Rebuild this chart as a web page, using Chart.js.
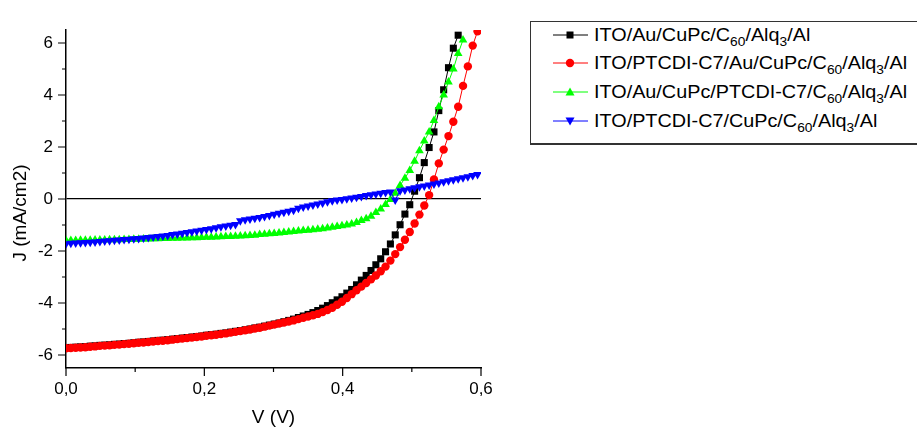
<!DOCTYPE html>
<html>
<head>
<meta charset="utf-8">
<script src="https://cdn.jsdelivr.net/npm/chart.js@4.4.1/dist/chart.umd.min.js"></script>
<style>
body{margin:0;background:#fff;}
#wrap{position:relative;width:917px;height:430px;overflow:hidden;}
#legend{position:absolute;left:530px;top:21px;width:420px;height:121px;border:1px solid #333;border-bottom-width:2px;background:#fff;
 font-family:"Liberation Sans",Arial,sans-serif;font-size:18px;color:#000;}
.row{position:absolute;left:22px;height:28px;line-height:28px;white-space:nowrap;}
.row svg{position:absolute;left:0;top:0;}
.row span{position:absolute;left:41px;top:0;transform:scaleX(1.1);transform-origin:0 50%;}
sub{font-size:12.5px;vertical-align:-5px;line-height:0;}
</style>
</head>
<body>
<div id="wrap">
<canvas id="c" width="917" height="430"></canvas>
<div id="legend"></div>
</div>
<script>
// bias voltage (V), shared by all four curves
const volts = [0,0.007,0.014,0.021,0.028,0.035,0.042,0.049,0.056,0.063,
 0.07,0.077,0.084,0.091,0.098,0.105,0.112,0.119,0.126,0.133,
 0.14,0.147,0.154,0.161,0.168,0.175,0.182,0.189,0.196,0.203,
 0.21,0.217,0.224,0.231,0.238,0.245,0.252,0.259,0.266,0.273,
 0.28,0.287,0.294,0.301,0.308,0.315,0.322,0.329,0.336,0.343,
 0.35,0.357,0.364,0.371,0.378,0.385,0.392,0.399,0.406,0.413,
 0.42,0.427,0.434,0.441,0.448,0.455,0.462,0.469,0.476,0.483,
 0.49,0.497,0.504,0.511,0.518,0.525,0.532,0.539,0.546,0.553,
 0.56,0.567,0.574,0.581,0.588,0.595];

// current density J (mA/cm2)
const jAuCuPc = [-5.72,-5.71,-5.70,-5.69,-5.68,-5.66,-5.65,-5.63,-5.62,-5.61,
 -5.59,-5.58,-5.56,-5.55,-5.53,-5.51,-5.50,-5.48,-5.46,-5.44,
 -5.43,-5.41,-5.39,-5.37,-5.35,-5.33,-5.31,-5.29,-5.27,-5.24,
 -5.22,-5.20,-5.17,-5.15,-5.12,-5.09,-5.06,-5.03,-5.00,-4.96,
 -4.93,-4.89,-4.85,-4.81,-4.77,-4.72,-4.67,-4.62,-4.56,-4.50,
 -4.44,-4.37,-4.29,-4.20,-4.10,-3.99,-3.88,-3.76,-3.62,-3.48,
 -3.30,-3.12,-2.94,-2.75,-2.53,-2.30,-2.03,-1.73,-1.38,-0.99,
 -0.58,-0.22,0.30,0.82,1.40,1.98,2.58,3.40,4.20,5.05,
 5.80,6.30];
const jPtcdiAu = [-5.74,-5.73,-5.72,-5.71,-5.70,-5.68,-5.67,-5.65,-5.64,-5.63,
 -5.61,-5.60,-5.58,-5.57,-5.55,-5.53,-5.52,-5.50,-5.48,-5.46,
 -5.45,-5.43,-5.41,-5.39,-5.37,-5.35,-5.33,-5.31,-5.29,-5.26,
 -5.24,-5.22,-5.19,-5.17,-5.14,-5.11,-5.08,-5.05,-5.02,-4.98,
 -4.95,-4.91,-4.87,-4.83,-4.79,-4.75,-4.71,-4.67,-4.62,-4.57,
 -4.52,-4.47,-4.42,-4.35,-4.27,-4.18,-4.07,-3.95,-3.81,-3.66,
 -3.51,-3.37,-3.23,-3.09,-2.94,-2.78,-2.60,-2.37,-2.12,-1.85,
 -1.57,-1.27,-0.94,-0.60,-0.25,0.15,0.75,1.37,1.90,2.42,
 2.97,3.55,4.35,5.10,5.90,6.45];
const jAuPtcdi = [-1.60,-1.60,-1.60,-1.59,-1.59,-1.59,-1.58,-1.58,-1.58,-1.57,
 -1.57,-1.57,-1.56,-1.56,-1.55,-1.55,-1.54,-1.54,-1.53,-1.53,
 -1.52,-1.52,-1.51,-1.51,-1.50,-1.50,-1.49,-1.49,-1.48,-1.47,
 -1.47,-1.46,-1.45,-1.44,-1.44,-1.43,-1.42,-1.41,-1.40,-1.39,
 -1.37,-1.36,-1.34,-1.33,-1.31,-1.29,-1.27,-1.25,-1.23,-1.21,
 -1.20,-1.18,-1.16,-1.14,-1.12,-1.09,-1.06,-1.03,-1.00,-0.96,
 -0.90,-0.83,-0.76,-0.66,-0.52,-0.38,-0.21,-0.02,0.22,0.52,
 0.80,1.10,1.45,1.86,2.23,2.58,3.02,3.55,4.00,4.50,
 5.00,5.60,6.12];
const jPtcdiCuPc = [-1.72,-1.70,-1.69,-1.68,-1.67,-1.66,-1.65,-1.63,-1.62,-1.61,
 -1.59,-1.58,-1.56,-1.55,-1.53,-1.52,-1.50,-1.48,-1.46,-1.44,
 -1.42,-1.40,-1.37,-1.35,-1.32,-1.29,-1.26,-1.23,-1.20,-1.17,
 -1.14,-1.11,-1.07,-1.04,-1.01,-0.98,-0.84,-0.80,-0.77,-0.74,
 -0.71,-0.67,-0.63,-0.59,-0.55,-0.51,-0.47,-0.43,-0.36,-0.31,
 -0.27,-0.23,-0.19,-0.15,-0.11,-0.07,-0.04,-0.02,0.01,0.04,
 0.07,0.10,0.13,0.16,0.19,0.22,0.25,0.27,-0.04,0.32,
 0.35,0.39,0.43,0.47,0.50,0.54,0.58,0.62,0.66,0.70,
 0.74,0.78,0.82,0.86,0.90,0.94];

const seriesNames = [
 'ITO/Au/CuPc/C<sub>60</sub>/Alq<sub>3</sub>/Al',
 'ITO/PTCDI-C7/Au/CuPc/C<sub>60</sub>/Alq<sub>3</sub>/Al',
 'ITO/Au/CuPc/PTCDI-C7/C<sub>60</sub>/Alq<sub>3</sub>/Al',
 'ITO/PTCDI-C7/CuPc/C<sub>60</sub>/Alq<sub>3</sub>/Al'
];
const xMajor = [0, 0.2, 0.4, 0.6];
const xMinor = [0.1, 0.3, 0.5];
const xTickLabels = ['0,0', '0,2', '0,4', '0,6'];
const yMajor = [-6, -4, -2, 0, 2, 4, 6];
const yMinor = [-5, -3, -1, 1, 3, 5];
const yTickLabels = ['-6', '-4', '-2', '0', '2', '4', '6'];

const FONT = '"Liberation Sans", Arial, sans-serif';

function pts(ys){ return ys.map((j,i)=>({x: volts[i], y: j})); }

const styles = [
 {color:'#000000', shape:'rect', r:5, rot:0, order:4},
 {color:'#ff0000', shape:'circle', r:4.2, rot:0, order:3},
 {color:'#00ff00', shape:'triangle', r:5, rot:0, order:2},
 {color:'#0000ff', shape:'triangle', r:5, rot:180, order:1}
];
const allJ = [jAuCuPc, jPtcdiAu, jAuPtcdi, jPtcdiCuPc];

const datasets = allJ.map((ys,k)=>({
  label: seriesNames[k].replace(/<\/?sub>/g,''),
  data: pts(ys),
  borderColor: styles[k].color,
  backgroundColor: styles[k].color,
  borderWidth: 1,
  pointStyle: styles[k].shape,
  pointRadius: styles[k].r,
  pointRotation: styles[k].rot,
  pointBorderWidth: 0,
  order: styles[k].order,
  tension: 0
}));

const axisDecor = {
  id: 'axisDecor',
  afterDraw(chart){
    const {ctx, chartArea: a, scales: {x, y}} = chart;
    ctx.save();
    ctx.strokeStyle = '#000';
    ctx.lineWidth = 1.2;
    ctx.beginPath();
    xMajor.forEach(v=>{ const p = x.getPixelForValue(v); ctx.moveTo(p, a.bottom); ctx.lineTo(p, a.bottom + 8); });
    xMinor.forEach(v=>{ const p = x.getPixelForValue(v); ctx.moveTo(p, a.bottom); ctx.lineTo(p, a.bottom + 4); });
    yMajor.forEach(v=>{ const p = y.getPixelForValue(v); ctx.moveTo(a.left, p); ctx.lineTo(a.left - 8, p); });
    yMinor.forEach(v=>{ const p = y.getPixelForValue(v); ctx.moveTo(a.left, p); ctx.lineTo(a.left - 4, p); });
    ctx.stroke();
    ctx.translate(21, 213);
    ctx.rotate(-Math.PI/2);
    ctx.font = '19px ' + FONT;
    ctx.fillStyle = '#000';
    ctx.textAlign = 'center';
    ctx.textBaseline = 'middle';
    ctx.fillText('J (mA/cm2)', 0, 0);
    ctx.restore();
  }
};

new Chart(document.getElementById('c'), {
  type: 'line',
  data: { datasets },
  plugins: [axisDecor],
  options: {
    responsive: false,
    animation: false,
    layout: { padding: { top: 30, right: 436, left: 0, bottom: 0 } },
    plugins: { legend: { display: false }, tooltip: { enabled: false } },
    scales: {
      x: {
        type: 'linear', min: 0, max: 0.6,
        afterBuildTicks: s => { s.ticks = xMajor.map(v=>({value: v})); },
        afterFit: s => { s.height = 62; },
        grid: { display: false, drawTicks: false },
        border: { display: true, color: '#000', width: 1.5 },
        ticks: { autoSkip: false, maxRotation: 0, padding: 11, color: '#000',
          font: { family: FONT, size: 17 }, callback: (v,i) => xTickLabels[i] },
        title: { display: true, text: 'V (V)', color: '#000',
          font: { family: FONT, size: 19 }, padding: { top: 0, bottom: 1 } }
      },
      y: {
        type: 'linear', min: -6.5, max: 6.5,
        afterBuildTicks: s => { s.ticks = yMajor.map(v=>({value: v})); },
        afterFit: s => { s.width = 66; },
        grid: { display: true, drawTicks: false, lineWidth: 1.2,
          color: c => (c.tick && c.tick.value === 0) ? '#000' : 'rgba(0,0,0,0)' },
        border: { display: true, color: '#000', width: 1.5 },
        ticks: { autoSkip: false, padding: 13, color: '#000',
          font: { family: FONT, size: 17 }, callback: (v,i) => yTickLabels[i] }
      }
    }
  }
});

// legend with subscripts, built as HTML
const legendEl = document.getElementById('legend');
const rowTops = [-1, 27, 56, 85];
seriesNames.forEach((name,k)=>{
  const st = styles[k];
  let mark;
  if (st.shape === 'rect') mark = `<rect x="13.5" y="10.5" width="7" height="7" fill="${st.color}"/>`;
  else if (st.shape === 'circle') mark = `<circle cx="17" cy="14" r="4.2" fill="${st.color}"/>`;
  else if (st.rot === 0) mark = `<polygon points="17,9.5 21.5,17.5 12.5,17.5" fill="${st.color}"/>`;
  else mark = `<polygon points="17,18.5 21.5,10.5 12.5,10.5" fill="${st.color}"/>`;
  const row = document.createElement('div');
  row.className = 'row';
  row.style.top = rowTops[k] + 'px';
  row.innerHTML = `<svg width="36" height="28"><line x1="0" y1="14" x2="35" y2="14" stroke="${st.color}" stroke-width="1"/>${mark}</svg><span>${name}</span>`;
  legendEl.appendChild(row);
});
</script>
</body>
</html>
